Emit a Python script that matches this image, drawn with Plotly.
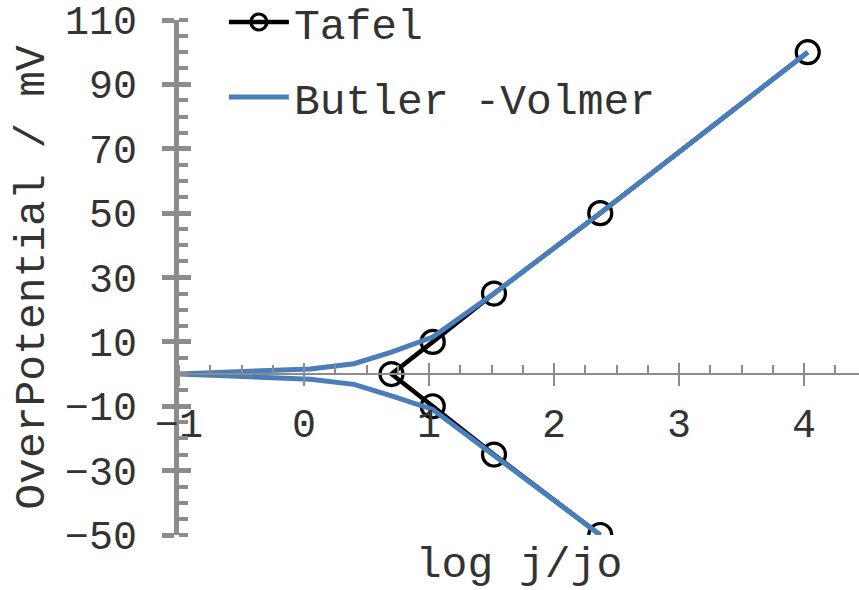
import plotly.graph_objects as go

# Tafel data (log j/jo, overpotential mV)
tafel_x = [2.37, 1.52, 1.03, 0.70, 1.03, 1.52, 2.37, 4.03]
tafel_y = [-50, -25, -10, 0, 10, 25, 50, 100]

# Butler-Volmer data (cathodic branch reversed, then anodic branch)
bv_x = [2.37, 1.52, 1.03, 0.70, 0.40, 0.05, -1.0, 0.05, 0.40, 0.70, 1.03, 1.52, 2.37, 4.03]
bv_y = [-50, -25, -11, -6.8, -3.2, -1.6, 0.0, 1.6, 3.2, 6.8, 11.5, 25, 50, 100]

# Tick values
x_ticks = [-1, 0, 1, 2, 3, 4]
y_ticks = [-50, -30, -10, 10, 30, 50, 70, 90, 110]

x_range = [-1, 4.44]
y_range = [-50, 110]

FONT = "Liberation Mono, Courier New, monospace"
GRAY = "#8c8c8c"
BLUE = "#4a7ebb"
TXT = "#333333"

fig = go.Figure()
fig.add_trace(go.Scatter(
    x=tafel_x, y=tafel_y, name="Tafel", mode="lines+markers",
    line=dict(color="black", width=4.5),
    marker=dict(symbol="circle-open", size=23, color="black", line=dict(width=3.2)),
    xaxis="x", yaxis="y", legendgroup="a",
))
fig.add_trace(go.Scatter(
    x=bv_x, y=bv_y, name="Butler -Volmer", mode="lines",
    line=dict(color=BLUE, width=5),
    xaxis="x2", yaxis="y2", legendgroup="b",
))

ypos = (0 - y_range[0]) / (y_range[1] - y_range[0])

fig.update_layout(
    width=859, height=590,
    margin=dict(l=179, r=0, t=20, b=55, autoexpand=False),
    paper_bgcolor="white", plot_bgcolor="white",
    font=dict(family=FONT, color=TXT, size=40),
    showlegend=True,
    legend=dict(x=0.066, y=1.063, xanchor="left", yanchor="top",
                font=dict(size=43, family=FONT, color=TXT),
                bgcolor="rgba(0,0,0,0)", tracegroupgap=16, itemwidth=60),
    xaxis=dict(
        range=x_range, anchor="free", position=ypos,
        showgrid=False, zeroline=False,
        showline=True, linecolor=GRAY, linewidth=2,
        ticks="outside", ticklen=11, tickwidth=2, tickcolor=GRAY,
        tickmode="array", tickvals=x_ticks,
        ticklabelstandoff=3,
        tickfont=dict(size=40, family=FONT, color=TXT),
        minor=dict(ticks="inside", dtick=0.25, ticklen=8, tickwidth=2,
                   tickcolor=GRAY, showgrid=False),
        title=dict(text="log j/jo", font=dict(size=43, family=FONT, color=TXT),
                   standoff=102),
    ),
    xaxis2=dict(
        range=x_range, anchor="free", position=ypos, overlaying="x",
        showgrid=False, zeroline=False, showline=False,
        ticks="inside", ticklen=11, tickwidth=2, tickcolor=GRAY,
        tickmode="array", tickvals=x_ticks,
        showticklabels=False,
    ),
    yaxis=dict(
        range=y_range, anchor="x",
        showgrid=False, zeroline=False,
        showline=True, linecolor=GRAY, linewidth=5,
        ticks="outside", ticklen=12, tickwidth=5, tickcolor=GRAY,
        tickmode="array", tickvals=y_ticks,
        ticklabelstandoff=17,
        tickfont=dict(size=40, family=FONT, color=TXT),
        minor=dict(ticks="inside", dtick=5, tick0=0, ticklen=9, tickwidth=4,
                   tickcolor=GRAY, showgrid=False),
        title=dict(text="OverPotential / mV", font=dict(size=43, family=FONT, color=TXT),
                   standoff=8),
    ),
    yaxis2=dict(
        range=y_range, anchor="x2", overlaying="y",
        showgrid=False, zeroline=False, showline=False,
        ticks="inside", ticklen=12, tickwidth=5, tickcolor=GRAY,
        tickmode="array", tickvals=y_ticks,
        showticklabels=False,
    ),
)

fig.write_html("out.html")
